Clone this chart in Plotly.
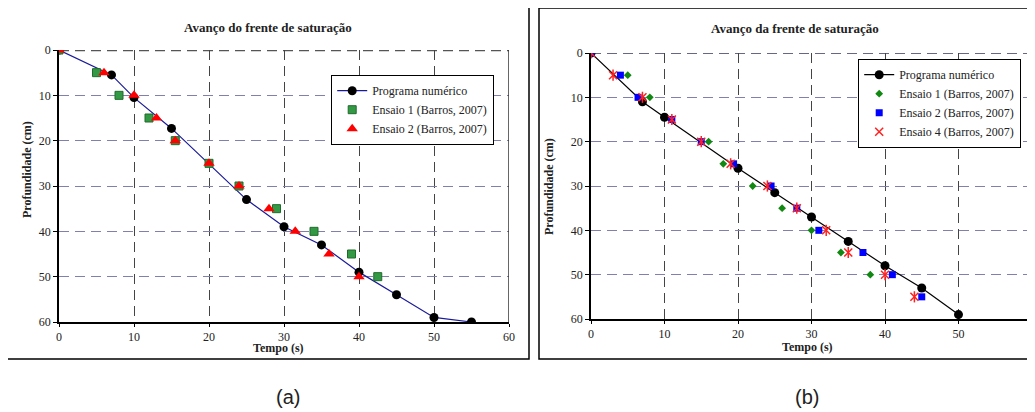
import plotly.graph_objects as go

# ---------------- Data: panel (a) ----------------
a_num_t = [0, 7, 10, 15, 25, 30, 35, 40, 45, 50, 55]
a_num_d = [0, 5.5, 10.5, 17.3, 33, 39, 43, 49, 54, 59, 60]
a_e1_t = [0, 5, 8, 12, 15.5, 20, 24, 29, 34, 39, 42.5]
a_e1_d = [0, 5, 10, 15, 20, 25, 30, 35, 40, 45, 50]
a_e2_t = [0, 6, 10, 13, 15.5, 20, 24, 28, 31.5, 36, 40]
a_e2_d = [0, 5, 10, 15, 20, 25, 30, 35, 40, 45, 50]

# ---------------- Data: panel (b) ----------------
b_num_t = [0, 7, 10, 20, 25, 30, 35, 40, 45, 50]
b_num_d = [0, 11, 14.5, 26, 31.5, 37, 42.5, 48, 53, 59]
b_e1_t = [0, 5, 8, 16, 18, 22, 26, 30, 34, 38]
b_e1_d = [0, 5, 10, 20, 25, 30, 35, 40, 45, 50]
b_e2_t = [0, 4, 6.4, 11, 15, 19.4, 24.5, 28, 31, 37, 41, 45]
b_e2_d = [0, 5, 10, 15, 20, 25, 30, 35, 40, 45, 50, 55]
b_e4_t = [0, 3, 7, 11, 15, 19, 24, 28, 32, 35, 40, 44]
b_e4_d = [0, 5, 10, 15, 20, 25, 30, 35, 40, 45, 50, 55]

x_ticks = [0, 10, 20, 30, 40, 50, 60]
y_ticks = [0, 10, 20, 30, 40, 50, 60]

# page body has an 8px default margin; lay out in window pixels minus it
OFF = 8
W, H = 1035 - OFF, 412 - OFF
SERIF = "Liberation Serif"
TXT = "#222222"

def px(x):
    return (x - OFF) / W

def py(y):
    return 1 - (y - OFF) / H

fig = go.Figure()

# Panel (a)
fig.add_trace(go.Scatter(x=a_num_t, y=a_num_d, mode="lines+markers", name="Programa numérico",
                         line=dict(color="#1a1a99", width=1.2),
                         marker=dict(color="black", size=9, symbol="circle"),
                         xaxis="x", yaxis="y", legend="legend"))
fig.add_trace(go.Scatter(x=a_e1_t, y=a_e1_d, mode="markers", name="Ensaio 1 (Barros, 2007)",
                         marker=dict(color="#339944", size=8, symbol="square",
                                     line=dict(color="#1f6b2a", width=1)),
                         xaxis="x", yaxis="y", legend="legend"))
fig.add_trace(go.Scatter(x=a_e2_t, y=a_e2_d, mode="markers", name="Ensaio 2 (Barros, 2007)",
                         marker=dict(color="#ff0000", size=10, symbol="triangle-up"),
                         xaxis="x", yaxis="y", legend="legend"))

# Panel (b)
fig.add_trace(go.Scatter(x=b_num_t, y=b_num_d, mode="lines+markers", name="Programa numérico",
                         line=dict(color="black", width=1.2),
                         marker=dict(color="black", size=9, symbol="circle"),
                         xaxis="x2", yaxis="y2", legend="legend2"))
fig.add_trace(go.Scatter(x=b_e1_t, y=b_e1_d, mode="markers", name="Ensaio 1 (Barros, 2007)",
                         marker=dict(color="#118811", size=6, symbol="diamond"),
                         xaxis="x2", yaxis="y2", legend="legend2"))
fig.add_trace(go.Scatter(x=b_e2_t, y=b_e2_d, mode="markers", name="Ensaio 2 (Barros, 2007)",
                         marker=dict(color="#0000ff", size=7, symbol="square"),
                         xaxis="x2", yaxis="y2", legend="legend2"))
fig.add_trace(go.Scatter(x=b_e4_t, y=b_e4_d, mode="markers", name="Ensaio 4 (Barros, 2007)",
                         marker=dict(color="#ff2020", size=8, symbol="x-thin-open",
                                     line=dict(color="#ff2020", width=1.5)),
                         xaxis="x2", yaxis="y2", legend="legend2", legendgroup="e4"))
fig.add_trace(go.Scatter(x=b_e4_t, y=b_e4_d, mode="markers", name="Ensaio 4 (Barros, 2007)",
                         marker=dict(color="#ff2020", size=8, symbol="line-ns-open",
                                     line=dict(color="#ff2020", width=1.5)),
                         xaxis="x2", yaxis="y2", legend="legend2", legendgroup="e4",
                         showlegend=False))

axis_common = dict(
    range=[0, 60], tickvals=x_ticks, showgrid=True, gridcolor="#444444", griddash="10px,6px",
    gridwidth=1, zeroline=False, showline=True, linecolor="black", linewidth=1.5,
    ticks="outside", ticklen=3, tickcolor="black", automargin=False,
    tickfont=dict(family=SERIF, size=12, color=TXT),
)
yaxis_common = dict(
    range=[60, 0], tickvals=y_ticks, showgrid=True, gridcolor="#8080b0", griddash="10px,6px",
    gridwidth=1, zeroline=False, showline=True, linecolor="black", linewidth=1.5,
    ticks="outside", ticklen=4, tickcolor="black", automargin=False,
    tickfont=dict(family=SERIF, size=12, color=TXT),
)

# plot areas (window pixels)
A = dict(x0=59, x1=509, y0=50, y1=322)
B = dict(x0=591, x1=1032, y0=53, y1=319)

fig.update_layout(
    width=W, height=H, autosize=False,
    margin=dict(l=0, r=0, t=0, b=0, pad=0),
    font=dict(family=SERIF, size=12, color=TXT),
    paper_bgcolor="white", plot_bgcolor="white",
    xaxis=dict(axis_common, domain=[px(A["x0"]), px(A["x1"])], anchor="y"),
    yaxis=dict(yaxis_common, domain=[py(A["y1"]), py(A["y0"])], anchor="x"),
    xaxis2=dict(axis_common, domain=[px(B["x0"]), min(1.0, px(B["x1"]))], anchor="y2"),
    yaxis2=dict(yaxis_common, domain=[py(B["y1"]), py(B["y0"])], anchor="x2"),
    legend=dict(x=px(331), y=py(75), xanchor="left", yanchor="top",
                bgcolor="white", bordercolor="black", borderwidth=1.2,
                font=dict(family=SERIF, size=12, color=TXT),
                tracegroupgap=0, itemwidth=30),
    legend2=dict(x=px(858), y=py(59), xanchor="left", yanchor="top",
                 bgcolor="white", bordercolor="black", borderwidth=1.2,
                 font=dict(family=SERIF, size=12, color=TXT),
                 tracegroupgap=0, itemwidth=30),
    showlegend=True,
)

shapes = []
# outer frames
shapes.append(dict(type="rect", xref="paper", yref="paper", x0=px(6), x1=px(529), y0=py(359), y1=py(7),
                   line=dict(color="black", width=1.5), layer="below"))
shapes.append(dict(type="rect", xref="paper", yref="paper", x0=px(539), x1=px(1045), y0=py(359), y1=py(8),
                   line=dict(color="black", width=1.5), layer="below"))
# plot area top/right borders
shapes.append(dict(type="line", xref="x", yref="y", x0=0, x1=60, y0=0, y1=0,
                   line=dict(color="#555555", width=2.5, dash="10px,6px"), layer="below"))
shapes.append(dict(type="line", xref="x", yref="y", x0=60, x1=60, y0=0, y1=60,
                   line=dict(color="#333333", width=1.5)))
shapes.append(dict(type="line", xref="x2", yref="y2", x0=0, x1=60, y0=0, y1=0,
                   line=dict(color="#666688", width=2, dash="10px,6px"), layer="below"))
fig.update_layout(shapes=shapes)

def label(text, x, y, size=12, family=SERIF, angle=0):
    return dict(text=text, x=px(x), y=py(y), xref="paper", yref="paper",
                xanchor="center", yanchor="middle", showarrow=False, textangle=angle,
                font=dict(family=family, size=size, color=TXT))

ann = [
    label("<b>Avanço do frente de saturação</b>", 268, 27, size=13),
    label("<b>Avanço da frente de saturação</b>", 795, 28, size=13),
    label("<b>Tempo (s)</b>", 278, 348),
    label("<b>Tempo (s)</b>", 807, 347),
    label("<b>Profundidade (cm)</b>", 27, 170, angle=-90),
    label("<b>Profundidade (cm)</b>", 549, 187, angle=-90),
    label("(a)", 288, 397, size=20, family="Liberation Sans"),
    label("(b)", 807, 397, size=20, family="Liberation Sans"),
]
fig.update_layout(annotations=ann)

fig.write_html("out.html")
